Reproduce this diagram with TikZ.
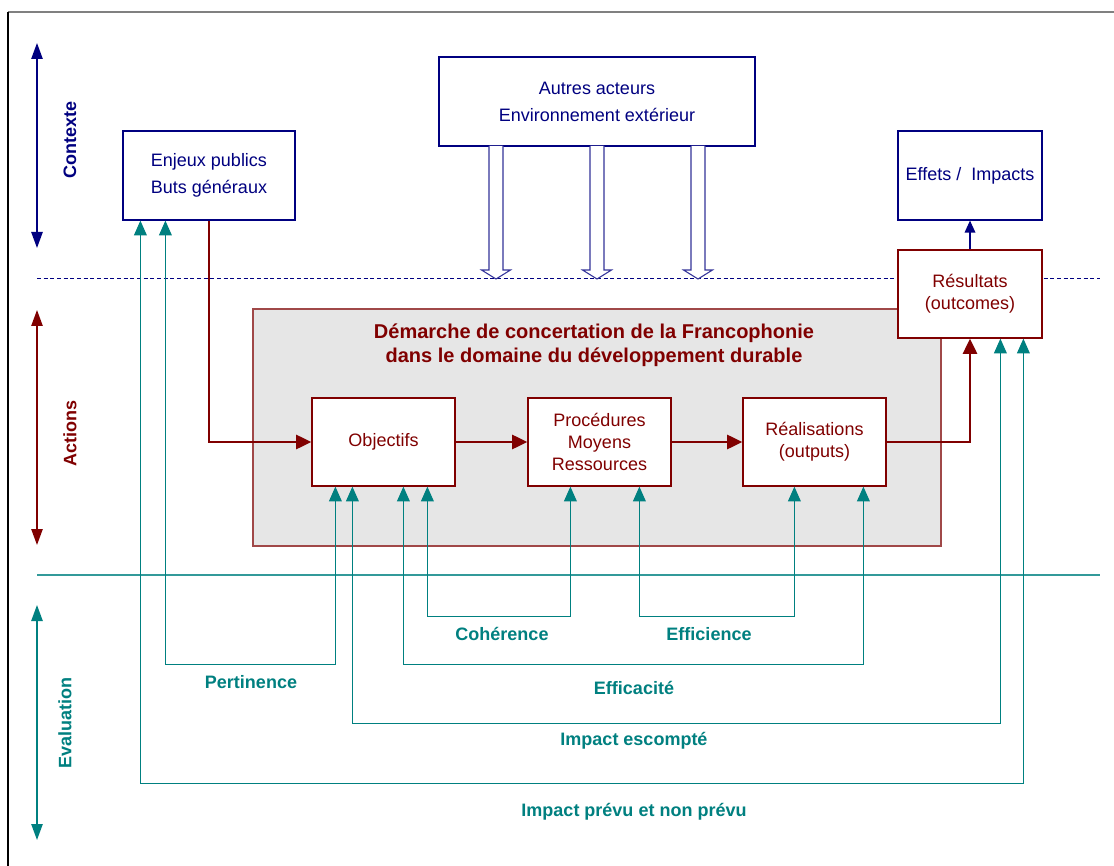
\documentclass[tikz,border=0pt]{standalone}
\usepackage{fontspec}
\setmainfont{Liberation Sans}
\usetikzlibrary{arrows.meta,calc}
\definecolor{navyc}{HTML}{000080}
\definecolor{maroonc}{HTML}{800000}
\definecolor{tealc}{HTML}{008080}
\definecolor{grayfill}{HTML}{E6E6E6}
\definecolor{grayborder}{HTML}{A04848}
\begin{document}
\begin{tikzpicture}[x=0.75pt,y=-0.75pt,
  txt/.style={font=\fontsize{13.5}{20.25}\selectfont, align=center},
  navybox/.style={draw=navyc, line width=0.9pt, fill=white, text=navyc, txt, inner sep=0pt},
  redbox/.style={draw=maroonc, line width=0.9pt, fill=white, text=maroonc, txt, inner sep=0pt},
  boldlbl/.style={font=\fontsize{13.5}{18}\selectfont\bfseries, align=center},
  tealline/.style={draw=tealc, line width=1pt, {Triangle[length=11pt,width=9.5pt]}-{Triangle[length=11pt,width=9.5pt]}},
  redline/.style={draw=maroonc, line width=2.2pt, -{Triangle[length=11.5pt,width=10.5pt]}},
  axisarrow/.style={line width=1.1pt, {Triangle[length=12pt,width=8.5pt]}-{Triangle[length=12pt,width=8.5pt]}},
  hollowarrow/.style={draw=navyc!80, line width=0.8pt, fill=white}
]
\useasboundingbox (0,0) rectangle (1114,866);
\fill[white] (0,0) rectangle (1114,866);
% frame
\draw[gray, line width=1pt] (8,12) -- (1114,12);
\draw[black, line width=1pt] (8,12) -- (8,866);

% axes
\draw[axisarrow, navyc] (37,43) -- (37,248);
\draw[axisarrow, maroonc] (37,310) -- (37,545);
\draw[axisarrow, tealc] (37,605) -- (37,840);
\node[boldlbl, text=navyc, rotate=90] (lctx) at (70,140) {Contexte};
\node[boldlbl, text=maroonc, rotate=90] (lact) at (70,433) {Actions};
\node[boldlbl, text=tealc, rotate=90] (leval) at (65,723) {Evaluation};

% separators
\draw[navyc, line width=0.75pt, dash pattern=on 3pt off 2pt] (37,279) -- (1100,279);
\draw[tealc!80, line width=0.9pt] (37,575) -- (1100,575);

% gray frame
\node[draw=grayborder, line width=0.9pt, fill=grayfill, minimum width=516pt, minimum height=177.75pt, inner sep=0pt] (demarche) at (597,427.5) {};
\node[font=\fontsize{15}{18}\selectfont\bfseries, align=center, text=maroonc] (titre) at (594,345) {Démarche de concertation de la Francophonie\\dans le domaine du développement durable};

% boxes
\node[navybox, minimum width=129pt, minimum height=66.75pt] (enjeux) at (209,175.5) {Enjeux publics\\Buts généraux};
\node[navybox, minimum width=237pt, minimum height=66.75pt] (autres) at (597,101.5) {Autres acteurs\\Environnement extérieur};
\node[navybox, minimum width=108pt, minimum height=66.75pt] (effets) at (970,175.5) {Effets /\ \ Impacts};
\node[redbox, minimum width=108pt, minimum height=66pt, font=\fontsize{13.5}{16.5}\selectfont] (resultats) at (970,294) {Résultats\\(outcomes)};
\node[redbox, minimum width=107.25pt, minimum height=66pt] (objectifs) at (383.5,442) {Objectifs};
\node[redbox, minimum width=107.25pt, minimum height=66pt, font=\fontsize{13.5}{16.5}\selectfont] (procedures) at (599.5,442) {Procédures\\Moyens\\Ressources};
\node[redbox, minimum width=107.25pt, minimum height=66pt, font=\fontsize{13.5}{16.5}\selectfont] (realisations) at (814.5,442) {Réalisations\\(outputs)};

% hollow arrows
\foreach \x in {496,597,698} {
  \draw[hollowarrow] (\x-7,146) -- (\x-7,270) -- (\x-14.5,270) -- (\x,279) -- (\x+14.5,270) -- (\x+7,270) -- (\x+7,146);
}

% red flow
\draw[redline] (enjeux.south) |- (objectifs.west);
\draw[redline] (objectifs.east) -- (procedures.west);
\draw[redline] (procedures.east) -- (realisations.west);
\draw[redline] (realisations.east) -| (resultats.south);
\draw[navyc, line width=0.9pt, -{Triangle[length=9pt,width=8pt]}] (resultats.north) -- (effets.south);

% evaluation connectors
\draw[tealline] ($(objectifs.south west)+(24,0)$) -- ++(0,178) -| ($(enjeux.south west)+(43,0)$);
\draw[tealline] ($(objectifs.south west)+(41,0)$) -- ++(0,237) -| ($(resultats.south west)+(103,0)$);
\draw[tealline] ($(enjeux.south west)+(18,0)$) -- ++(0,563) -| ($(resultats.south west)+(126,0)$);
\draw[tealline] ($(objectifs.south west)+(116,0)$) -- ++(0,130) -| ($(procedures.south west)+(43,0)$);
\draw[tealline] ($(objectifs.south west)+(92,0)$) -- ++(0,178) -| ($(realisations.south west)+(121,0)$);
\draw[tealline] ($(procedures.south west)+(112,0)$) -- ++(0,130) -| ($(realisations.south west)+(52,0)$);

% labels
\node[boldlbl, text=tealc] (lcoh) at (502,634) {Cohérence};
\node[boldlbl, text=tealc] (leffi) at (709,634) {Efficience};
\node[boldlbl, text=tealc] (lpert) at (251,682) {Pertinence};
\node[boldlbl, text=tealc] (leffa) at (634,688) {Efficacité};
\node[boldlbl, text=tealc] (limpe) at (634,741) {Impact escompté};
\node[boldlbl, text=tealc] (limpp) at (634,812) {Impact prévu et non prévu};
\end{tikzpicture}
\end{document}
